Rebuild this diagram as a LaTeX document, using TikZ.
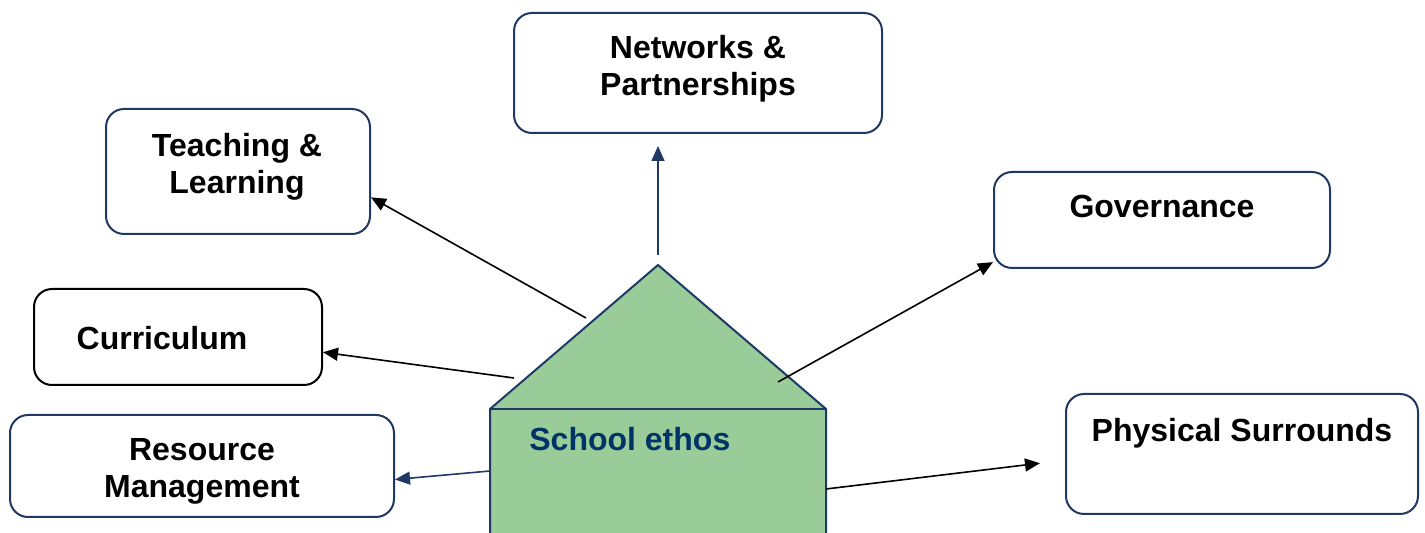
\documentclass[tikz,border=0pt]{standalone}
\usepackage{fontspec}
\setmainfont{Liberation Sans}
\usetikzlibrary{arrows.meta}
\definecolor{edgeblue}{RGB}{31,56,100}
\definecolor{ethosgreen}{RGB}{153,204,153}
\definecolor{ethostext}{RGB}{0,51,102}
\tikzset{
  areabox/.style={draw=edgeblue, line width=1pt, rounded corners=9pt, inner sep=0pt},
  arealabel/.style={inner sep=0pt, align=center, font=\bfseries\fontsize{16}{18.5}\selectfont},
  link/.style={-{Triangle[length=7.5pt,width=6.5pt]}, line width=0.8pt},
}
\begin{document}
\begin{tikzpicture}[x=0.5pt,y=-0.5pt]
\useasboundingbox (0,0) rectangle (1425,533);
% the house
\fill[ethosgreen] (490,533) -- (490,409) -- (658,265) -- (826,409) -- (826,533) -- cycle;
\draw[edgeblue, line width=1pt] (490,533) -- (490,409) -- (658,265) -- (826,409) -- (826,533);
\draw[edgeblue, line width=1pt] (490,409) -- (826,409);
\coordinate (apex) at (658,265);
\coordinate (ethos1) at (586,318);
\coordinate (ethos2) at (514,378);
\coordinate (ethos3) at (490,471);
\coordinate (ethos4) at (778,382);
\coordinate (ethos5) at (826,489);
\node[arealabel, anchor=base west, text=ethostext] (ethos) at (529,451) {School ethos};
% the boxes
\node[areabox, minimum width=184pt, minimum height=60pt] (netbox) at (698,73) {};
\node[areabox, minimum width=132pt, minimum height=62.5pt] (teachbox) at (238,171.5) {};
\node[areabox, minimum width=168pt, minimum height=48pt] (govbox) at (1162,220) {};
\node[areabox, draw=black, minimum width=144pt, minimum height=48pt] (curbox) at (178,337) {};
\node[areabox, minimum width=192pt, minimum height=51pt] (resbox) at (202,466) {};
\node[areabox, minimum width=176pt, minimum height=60pt] (physbox) at (1242,454) {};
\node[arealabel] (net) at (698,69) {Networks \&\\Partnerships};
\node[arealabel] (teach) at (237,167) {Teaching \&\\Learning};
\node[arealabel, anchor=base] (gov) at (1162,218) {Governance};
\node[arealabel, anchor=base] (cur) at (162,350) {Curriculum};
\node[arealabel] (res) at (202,471) {Resource\\Management};
\node[arealabel, anchor=base] (phys) at (1242,442) {Physical Surrounds};
% the arrows
\draw[link, edgeblue, shorten <=5pt, shorten >=6pt] (apex) -- (apex |- netbox.south);
\draw[link] (ethos1) -- (teachbox.-11.4);
\draw[link] (ethos2) -- (curbox.-6.3);
\draw[link, edgeblue] (ethos3) -- (resbox.-4.8);
\draw[link] (ethos4) -- (govbox.194);
\draw[link, shorten >=12.6pt] (ethos5) -- (physbox.182.7);
\end{tikzpicture}
\end{document}
